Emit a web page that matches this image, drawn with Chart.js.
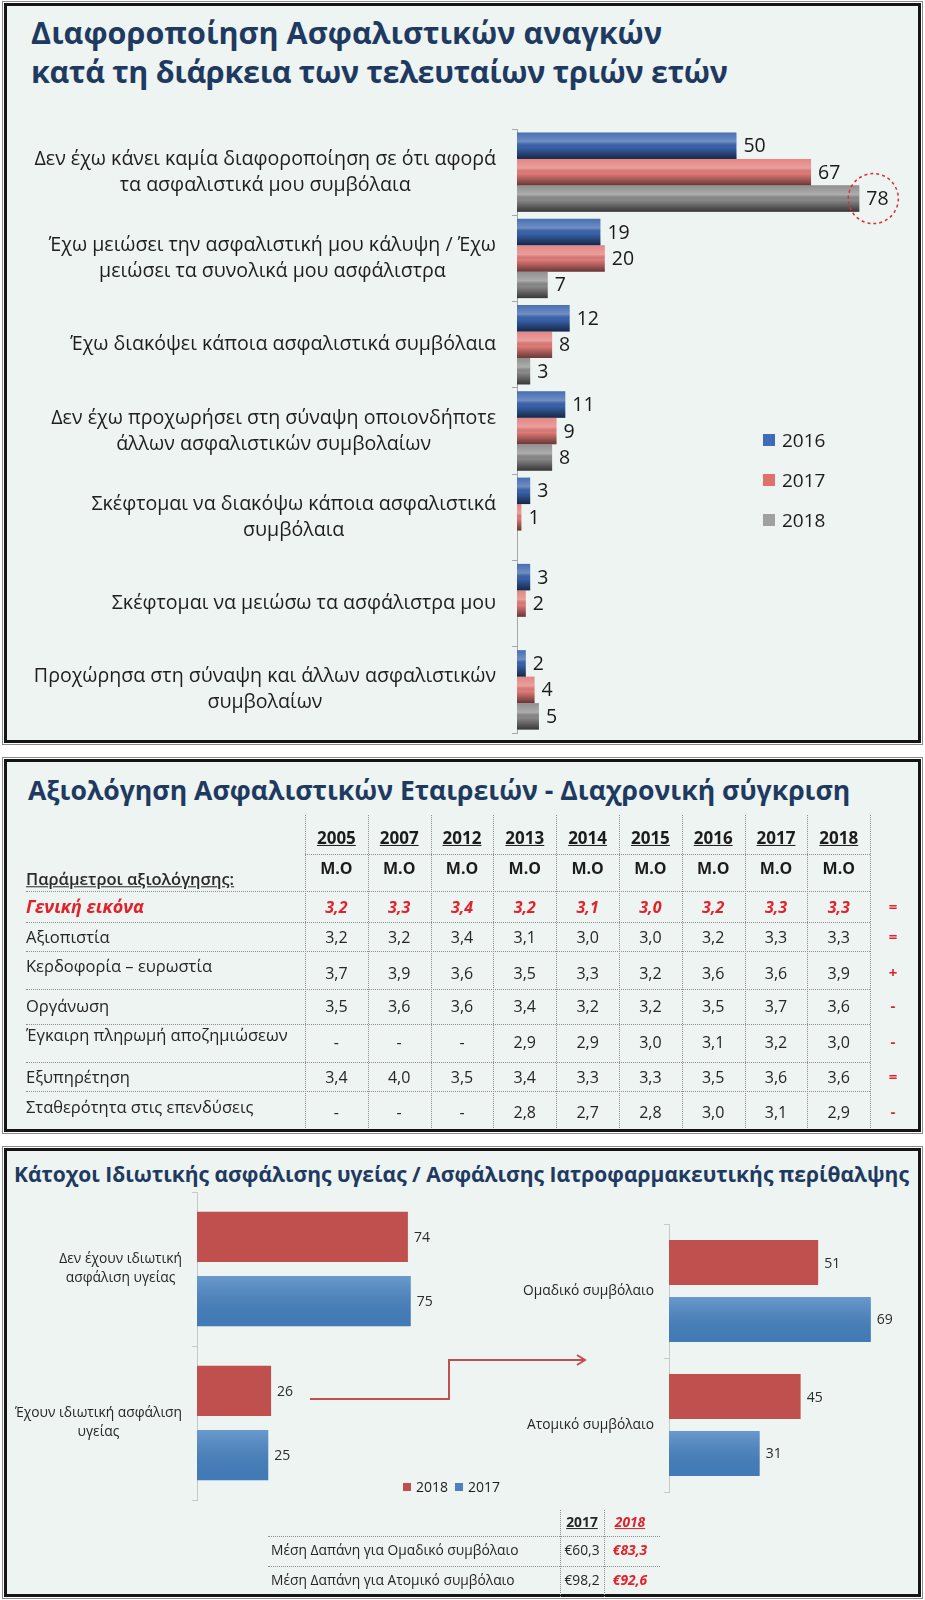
<!DOCTYPE html>
<html lang="el">
<head>
<meta charset="utf-8">
<title>Ασφαλιστικές ανάγκες</title>
<script src="https://cdn.jsdelivr.net/npm/chart.js@4.4.1/dist/chart.umd.min.js"></script>
<style>
    html, body { margin: 0; padding: 0; background: #ffffff; }
    body { position: relative; width: 925px; height: 1600px; overflow: hidden; font-family: "Open Sans", "Noto Sans", sans-serif; color: #1c1c1c; }
    .panel { position: absolute; left: 4px; width: 911px; border: 3px solid #151515; outline: 1px solid #8a8a8a; outline-offset: 1px; background: #edf4f2; }
    .title { position: absolute; font-weight: 700; color: #1f3a60; white-space: nowrap; }
    canvas.layer { position: absolute; left: 0; top: 0; z-index: 2; pointer-events: none; }
    .txt { position: absolute; white-space: nowrap; line-height: 1.3; z-index: 3; }
    .hdot { position: absolute; height: 0; border-top: 1px dotted #8d8d8d; z-index: 1; }
    .vdot { position: absolute; width: 0; border-left: 1px dotted #8d8d8d; z-index: 1; }
    .year { font-size: 17px; font-weight: 700; text-decoration: underline; }
    .mo { font-size: 16px; font-weight: 700; }
    .params { font-size: 16.5px; font-weight: 600; text-decoration: underline; color: #2a2a2a; }
    .cell { font-size: 16px; color: #262626; }
    .rowlabel { font-size: 16.5px; color: #262626; }
    .trend { font-size: 15px; font-weight: 700; color: #e3212b; }
    .small { font-size: 13.8px; color: #262626; }
    .txt.hot { color: #e3212b; font-weight: 700; font-style: italic; }
    .txt.rowlabel.hot { font-size: 18px; }
    .legend { position: absolute; z-index: 3; }
    .legend .item { display: flex; align-items: center; white-space: nowrap; }
    .legend .sq { display: inline-block; }
</style>
</head>
<body>

<div class="panel" style="top:3px; height:734px;"></div>
<div class="panel" style="top:759px; height:367px;"></div>
<div class="panel" style="top:1148px; height:443px;"></div>

<div class="title" style="left:31px; top:13px; font-size:30.5px; line-height:39px;"><span style="letter-spacing:0.06px;">Διαφοροποίηση Ασφαλιστικών αναγκών</span><br><span style="letter-spacing:-0.3px;">κατά τη διάρκεια των τελευταίων τριών ετών</span></div>
<div class="title" style="left:28px; top:773px; font-size:26.6px; line-height:34px;">Αξιολόγηση Ασφαλιστικών Εταιρειών - Διαχρονική σύγκριση</div>
<div class="title" style="left:14px; top:1160px; font-size:21px; line-height:28px;">Κάτοχοι Ιδιωτικής ασφάλισης υγείας / Ασφάλισης Ιατροφαρμακευτικής περίθαλψης</div>

<canvas id="needsChart" class="layer" width="925" height="1600"></canvas>
<canvas id="healthChart" class="layer" width="925" height="1600"></canvas>
<canvas id="contractChart" class="layer" width="925" height="1600"></canvas>

<div id="tables"></div>

<svg style="position:absolute; left:300px; top:1350px; z-index:3;" width="300" height="60">
    <path d="M10 49 H149 V10 H284 M277 5 L285 10 L277 15" fill="none" stroke="#c0504d" stroke-width="2"/>
</svg>

<script>
// ===========================
// Data
// ===========================

const needLabels = [
    ['Δεν έχω κάνει καμία διαφοροποίηση σε ότι αφορά', 'τα ασφαλιστικά μου συμβόλαια'],
    ['Έχω μειώσει την ασφαλιστική μου κάλυψη / Έχω', 'μειώσει τα συνολικά μου ασφάλιστρα'],
    ['Έχω διακόψει κάποια ασφαλιστικά συμβόλαια'],
    ['Δεν έχω προχωρήσει στη σύναψη οποιονδήποτε', 'άλλων ασφαλιστικών συμβολαίων'],
    ['Σκέφτομαι να διακόψω κάποια ασφαλιστικά', 'συμβόλαια'],
    ['Σκέφτομαι να μειώσω τα ασφάλιστρα μου'],
    ['Προχώρησα στη σύναψη και άλλων ασφαλιστικών', 'συμβολαίων']
];
const needYears = ['2016', '2017', '2018'];
const needs2016 = [50, 19, 12, 11, 3, 3, 2];
const needs2017 = [67, 20, 8, 9, 1, 2, 4];
const needs2018 = [78, 7, 3, 8, null, null, 5];

const evalYears = ['2005', '2007', '2012', '2013', '2014', '2015', '2016', '2017', '2018'];
const evalParams = ['Γενική εικόνα', 'Αξιοπιστία', 'Κερδοφορία – ευρωστία', 'Οργάνωση',
    'Έγκαιρη πληρωμή αποζημιώσεων', 'Εξυπηρέτηση', 'Σταθερότητα στις επενδύσεις'];
const generalImage = [3.2, 3.3, 3.4, 3.2, 3.1, 3.0, 3.2, 3.3, 3.3];
const reliability = [3.2, 3.2, 3.4, 3.1, 3.0, 3.0, 3.2, 3.3, 3.3];
const profitability = [3.7, 3.9, 3.6, 3.5, 3.3, 3.2, 3.6, 3.6, 3.9];
const organisation = [3.5, 3.6, 3.6, 3.4, 3.2, 3.2, 3.5, 3.7, 3.6];
const timelyPayment = [null, null, null, 2.9, 2.9, 3.0, 3.1, 3.2, 3.0];
const service = [3.4, 4.0, 3.5, 3.4, 3.3, 3.3, 3.5, 3.6, 3.6];
const investStability = [null, null, null, 2.8, 2.7, 2.8, 3.0, 3.1, 2.9];
const evalTrend = ['=', '=', '+', '-', '-', '=', '-'];

const healthYears = ['2018', '2017'];
const healthLabels = [['Δεν έχουν ιδιωτική', 'ασφάλιση υγείας'], ['Έχουν ιδιωτική ασφάλιση', 'υγείας']];
const health2018 = [74, 26];
const health2017 = [75, 25];
const contractLabels = [['Ομαδικό συμβόλαιο'], ['Ατομικό συμβόλαιο']];
const contract2018 = [51, 45];
const contract2017 = [69, 31];

const costLabels = ['Μέση Δαπάνη για Ομαδικό συμβόλαιο', 'Μέση Δαπάνη για Ατομικό συμβόλαιο'];
const cost2017 = [60.3, 98.2];
const cost2018 = [83.3, 92.6];

// ===========================
// Plugins
// ===========================

// glossy overlay on every bar (drawn over the library's own bar rectangles)
const barShine = {
    id: 'barShine',
    afterDatasetsDraw(chart, args, opts) {
        const { ctx } = chart;
        ctx.save();
        chart.data.datasets.forEach((ds, di) => {
            const stops = opts.stops[di];
            if (!stops) return;
            chart.getDatasetMeta(di).data.forEach((bar, i) => {
                if (ds.data[i] == null) return;
                const { x, y, base, height } = bar.getProps(['x', 'y', 'base', 'height'], true);
                const top = y - height / 2;
                const g = ctx.createLinearGradient(0, top, 0, top + height);
                stops.forEach(([p, c]) => g.addColorStop(p, c));
                ctx.fillStyle = g;
                ctx.fillRect(Math.min(x, base), top, Math.abs(x - base), height);
            });
        });
        ctx.restore();
    }
};

const valueLabels = {
    id: 'valueLabels',
    afterDatasetsDraw(chart, args, opts) {
        const { ctx } = chart;
        ctx.save();
        ctx.font = opts.font;
        ctx.fillStyle = opts.color;
        ctx.textAlign = 'left';
        ctx.textBaseline = 'middle';
        chart.data.datasets.forEach((ds, di) => {
            chart.getDatasetMeta(di).data.forEach((bar, i) => {
                if (ds.data[i] == null) return;
                ctx.fillText(String(ds.data[i]), bar.x + opts.offset, bar.y + 1);
            });
        });
        ctx.restore();
    }
};

// category labels: lines centred inside a block that is right-aligned to the axis
const categoryLabels = {
    id: 'categoryLabels',
    afterDraw(chart, args, opts) {
        const { ctx } = chart;
        const yScale = chart.scales.y;
        ctx.save();
        ctx.font = opts.font;
        ctx.fillStyle = opts.color;
        ctx.textAlign = 'center';
        ctx.textBaseline = 'middle';
        chart.data.labels.forEach((lines, i) => {
            const yc = yScale.getPixelForValue(i);
            const maxW = Math.max(...lines.map(l => ctx.measureText(l).width));
            const cx = chart.chartArea.left - opts.gap - maxW / 2;
            const y0 = yc - (lines.length - 1) * opts.lineHeight / 2;
            lines.forEach((l, k) => ctx.fillText(l, cx, y0 + k * opts.lineHeight));
        });
        ctx.restore();
    }
};

// dashed ring around one highlighted bar end
const highlightRing = {
    id: 'highlightRing',
    afterDraw(chart, args, opts) {
        if (!opts.enabled) return;
        const bar = chart.getDatasetMeta(opts.datasetIndex).data[opts.index];
        const { ctx } = chart;
        ctx.save();
        ctx.strokeStyle = opts.color;
        ctx.lineWidth = 1.5;
        ctx.setLineDash([3, 3]);
        ctx.beginPath();
        ctx.arc(bar.x + opts.dx, bar.y, opts.radius, 0, Math.PI * 2);
        ctx.stroke();
        ctx.restore();
    }
};

function axisY(color) {
    return {
        grid: { display: true, drawOnChartArea: false, drawTicks: true, tickLength: 5, color: color },
        border: { display: true, color: color },
        ticks: { display: false }
    };
}

// ===========================
// Top chart
// ===========================

new Chart(document.getElementById('needsChart'), {
    type: 'bar',
    data: {
        labels: needLabels,
        datasets: [
            { label: needYears[0], data: needs2016, backgroundColor: '#3963ad' },
            { label: needYears[1], data: needs2017, backgroundColor: '#e27b78' },
            { label: needYears[2], data: needs2018, backgroundColor: '#8a8a8a' }
        ]
    },
    options: {
        indexAxis: 'y',
        responsive: false,
        animation: false,
        layout: { padding: { left: 512, right: 13, top: 129, bottom: 867 } },
        datasets: { bar: { categoryPercentage: 0.92, barPercentage: 1 } },
        scales: {
            x: { display: false, min: 0, max: 90 },
            y: axisY('#a8a8a8')
        },
        plugins: {
            legend: { display: false },
            tooltip: { enabled: false },
            barShine: {
                stops: [
                    [[0, 'rgba(255,255,255,0.08)'], [0.35, 'rgba(255,255,255,0.28)'], [0.55, 'rgba(0,0,0,0)'], [1, 'rgba(0,0,0,0.6)']],
                    [[0, 'rgba(255,255,255,0.08)'], [0.35, 'rgba(255,255,255,0.28)'], [0.55, 'rgba(0,0,0,0)'], [1, 'rgba(0,0,0,0.55)']],
                    [[0, 'rgba(255,255,255,0.05)'], [0.35, 'rgba(255,255,255,0.3)'], [0.55, 'rgba(0,0,0,0)'], [1, 'rgba(0,0,0,0.6)']]
                ]
            },
            valueLabels: { font: '19.5px "Open Sans"', color: '#1a1a1a', offset: 7 },
            categoryLabels: { font: '19.6px "Open Sans"', color: '#1e1e1e', gap: 21, lineHeight: 26 },
            highlightRing: { enabled: true, datasetIndex: 2, index: 0, dx: 14, radius: 25, color: '#dd2f38' }
        }
    },
    plugins: [barShine, valueLabels, categoryLabels, highlightRing]
});

// ===========================
// Bottom charts
// ===========================

const healthShine = [null, [[0, 'rgba(255,255,255,0.2)'], [1, 'rgba(0,0,0,0.06)']]];

function smallBarChart(id, labels, d2018, d2017, padding, max, catPct, barPct) {
    return new Chart(document.getElementById(id), {
        type: 'bar',
        data: {
            labels: labels,
            datasets: [
                { label: healthYears[0], data: d2018, backgroundColor: '#c0504d' },
                { label: healthYears[1], data: d2017, backgroundColor: '#4582c2' }
            ]
        },
        options: {
            indexAxis: 'y',
            responsive: false,
            animation: false,
            layout: { padding: padding },
            datasets: { bar: { categoryPercentage: catPct, barPercentage: barPct } },
            scales: {
                x: { display: false, min: 0, max: max },
                y: axisY('#c8c8c8')
            },
            plugins: {
                legend: { display: false },
                tooltip: { enabled: false },
                barShine: { stops: healthShine },
                valueLabels: { font: '14px "Open Sans"', color: '#2b2b2b', offset: 6 },
                categoryLabels: { font: '13.8px "Open Sans"', color: '#262626', gap: 15, lineHeight: 19 },
                highlightRing: { enabled: false }
            }
        },
        plugins: [barShine, valueLabels, categoryLabels, highlightRing]
    });
}

smallBarChart('healthChart', healthLabels, health2018, health2017,
    { left: 192, right: 443, top: 1192, bottom: 100 }, 100, 0.837, 0.78);
smallBarChart('contractChart', contractLabels, contract2018, contract2017,
    { left: 664, right: 22, top: 1224, bottom: 108 }, 80, 0.85, 0.79);

// ===========================
// Legends and tables
// ===========================

const root = document.getElementById('tables');

function put(text, x, y, cls, align) {
    const el = document.createElement('div');
    el.className = 'txt ' + (cls || '');
    el.textContent = text;
    el.style.left = x + 'px';
    el.style.top = y + 'px';
    const tx = align === 'left' ? '0' : align === 'right' ? '-100%' : '-50%';
    el.style.transform = `translate(${tx}, -50%)`;
    root.appendChild(el);
    return el;
}

function hline(x1, x2, y) {
    const el = document.createElement('div');
    el.className = 'hdot';
    el.style.left = x1 + 'px';
    el.style.top = y + 'px';
    el.style.width = (x2 - x1) + 'px';
    root.appendChild(el);
}

function vline(x, y1, y2) {
    const el = document.createElement('div');
    el.className = 'vdot';
    el.style.left = x + 'px';
    el.style.top = y1 + 'px';
    el.style.height = (y2 - y1) + 'px';
    root.appendChild(el);
}

function legend(x, y, years, colors, opts) {
    const box = document.createElement('div');
    box.className = 'legend';
    box.style.left = x + 'px';
    box.style.top = y + 'px';
    box.style.display = 'flex';
    box.style.flexDirection = opts.vertical ? 'column' : 'row';
    box.style.gap = opts.gap + 'px';
    years.forEach((yr, i) => {
        const item = document.createElement('div');
        item.className = 'item';
        item.style.fontSize = opts.fontSize + 'px';
        item.style.lineHeight = opts.lineHeight + 'px';
        const sq = document.createElement('span');
        sq.className = 'sq';
        sq.style.width = sq.style.height = opts.box + 'px';
        sq.style.background = colors[i];
        sq.style.marginRight = opts.space + 'px';
        item.appendChild(sq);
        item.appendChild(document.createTextNode(yr));
        box.appendChild(item);
    });
    root.appendChild(box);
}

legend(763, 426, needYears, ['#3e6cb8', '#e0706c', '#a0a0a0'],
    { vertical: true, gap: 12, fontSize: 19, lineHeight: 28, box: 12, space: 7 });
legend(403, 1477, healthYears, ['#c0504d', '#4f81bd'],
    { vertical: false, gap: 7, fontSize: 14, lineHeight: 20, box: 8, space: 5 });

const fmt = v => v == null ? '-' : v.toFixed(1).replace('.', ',');

// evaluation table
const colX0 = 305;
const colW = 62.8;
const colCenter = i => colX0 + colW * (i + 0.5);
const evalRows = [generalImage, reliability, profitability, organisation, timelyPayment, service, investStability];
const valueY = [907, 937, 973, 1006, 1042, 1077, 1112];
const labelY = [907, 937, 966, 1006, 1035, 1077, 1107];

for (let k = 0; k <= evalYears.length; k++) vline(colX0 + colW * k, 815, 1128);
hline(colX0, colX0 + colW * evalYears.length, 854);
[891, 922, 951, 989, 1024, 1062, 1091].forEach(y => hline(26, colX0 + colW * evalYears.length, y));

evalYears.forEach((yr, i) => {
    put(yr, colCenter(i), 838, 'year');
    put('M.O', colCenter(i), 868, 'mo');
});
put('Παράμετροι αξιολόγησης:', 26, 879, 'params', 'left');

evalRows.forEach((row, r) => {
    const hot = r === 0 ? ' hot' : '';
    put(evalParams[r], 26, labelY[r], 'rowlabel' + hot, 'left');
    row.forEach((v, i) => put(fmt(v), colCenter(i), valueY[r], 'cell' + hot));
    put(evalTrend[r], 893, valueY[r], 'trend');
});

// average cost table
vline(560, 1510, 1597);
vline(604, 1510, 1597);
hline(268, 660, 1536);
hline(268, 660, 1566);
put('2017', 582, 1522, 'small year');
put('2018', 630, 1522, 'small year hot');
const costY = [1550, 1580];
costLabels.forEach((label, r) => {
    put(label, 271, costY[r], 'small', 'left');
    put('€' + fmt(cost2017[r]), 582, costY[r], 'small');
    put('€' + fmt(cost2018[r]), 630, costY[r], 'small hot');
});
</script>
</body>
</html>
